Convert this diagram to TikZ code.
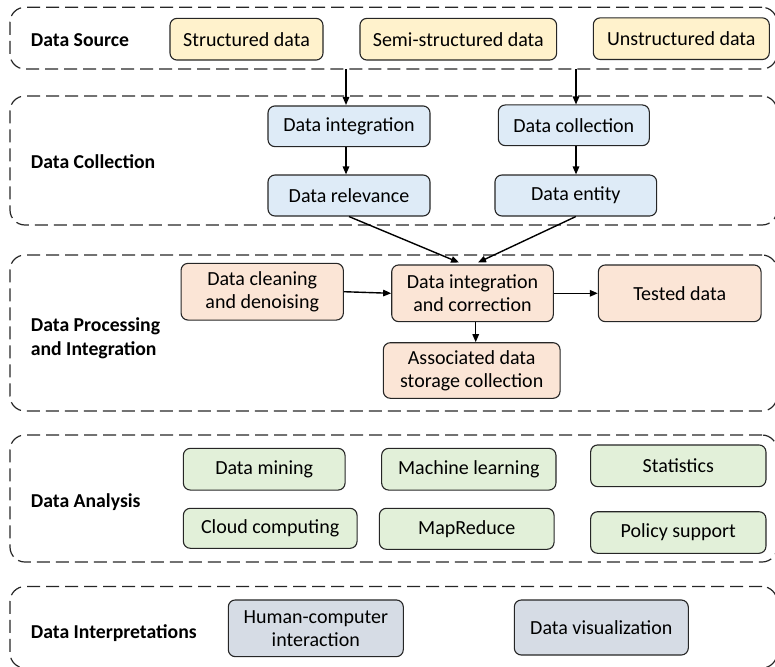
\documentclass[tikz,border=0pt]{standalone}
\usepackage{fontspec}
\setmainfont{Carlito}
\usetikzlibrary{arrows.meta}
\definecolor{cyel}{HTML}{FFF2CC}
\definecolor{cblu}{HTML}{DEEBF7}
\definecolor{csal}{HTML}{FBE5D6}
\definecolor{cgrn}{HTML}{E2F0D9}
\definecolor{cgry}{HTML}{D6DCE5}
\definecolor{cedge}{HTML}{262626}
\tikzset{
  box/.style={draw=cedge, line width=1.1pt, rounded corners=7pt, align=center, inner sep=0pt,
    font=\fontsize{20pt}{23pt}\selectfont, text=black},
  frame/.style={draw=black!85, line width=1.2pt, dash pattern=on 13pt off 6pt, rounded corners=15pt, inner sep=0pt},
  lbl/.style={anchor=west, inner sep=0pt, align=left, font=\bfseries\fontsize{19.7pt}{23.5pt}\selectfont},
  arr/.style={line width=1.4pt, -{Triangle[length=8pt,width=6.5pt]}}
}
\begin{document}
\begin{tikzpicture}[x=1pt,y=-1pt]
\useasboundingbox (0,0) rectangle (775,666);
\clip (0,0) rectangle (775,666);
% frames
\node[frame, minimum width=767pt, minimum height=61.7pt] (fsrc) at (393.5,38.15) {};
\node[frame, minimum width=767pt, minimum height=129pt] (fcol) at (393.5,160.5) {};
\node[frame, minimum width=767pt, minimum height=156pt] (fpro) at (393.5,333) {};
\node[frame, minimum width=767pt, minimum height=127pt] (fana) at (393.5,498.5) {};
\node[frame, minimum width=767pt, minimum height=81.5pt] (fint) at (393.5,627.25) {};
% labels
\node[lbl] (lsrc) at (30.7,40) {Data Source};
\node[lbl] (lcol) at (30.7,161.7) {Data Collection};
\node[lbl] (lpro) at (30.7,338.5) {Data Processing\\and Integration};
\node[lbl] (lana) at (30.7,501.7) {Data Analysis};
\node[lbl] (lint) at (30.7,633.3) {Data Interpretations};
% data source
\node[box, fill=cyel, minimum width=153pt, minimum height=41.7pt] (struct) at (246.5,39.2) {Structured data};
\node[box, fill=cyel, minimum width=196.7pt, minimum height=41.7pt] (semi) at (458.3,39.2) {Semi-structured data};
\node[box, fill=cyel, minimum width=176pt, minimum height=41.7pt] (unstr) at (681.3,38.7) {Unstructured data};
% data collection
\node[box, fill=cblu, minimum width=162pt, minimum height=40.7pt] (dinteg) at (349,126.3) {Data integration};
\node[box, fill=cblu, minimum width=151pt, minimum height=40.7pt] (dcoll) at (573.8,125.3) {Data collection};
\node[box, fill=cblu, minimum width=162pt, minimum height=41pt] (drel) at (349,195.5) {Data relevance};
\node[box, fill=cblu, minimum width=161.7pt, minimum height=41pt] (dent) at (575.8,195.5) {Data entity};
% processing
\node[box, fill=csal, minimum width=162.3pt, minimum height=56.7pt] (clean) at (262.2,291.7) {Data cleaning\\and denoising};
\node[box, fill=csal, minimum width=161.6pt, minimum height=56.7pt] (corr) at (472.5,293.3) {Data integration\\and correction};
\node[box, fill=csal, minimum width=162.7pt, minimum height=56.7pt] (tested) at (679.7,293.3) {Tested data};
\node[box, fill=csal, minimum width=176.7pt, minimum height=55.6pt] (assoc) at (471.7,370.5) {Associated data\\storage collection};
% analysis
\node[box, fill=cgrn, minimum width=161.7pt, minimum height=41.7pt] (mining) at (264.2,469.2) {Data mining};
\node[box, fill=cgrn, minimum width=174.3pt, minimum height=41.7pt] (ml) at (468.8,469.2) {Machine learning};
\node[box, fill=cgrn, minimum width=175.3pt, minimum height=41.7pt] (stats) at (678.3,465.8) {Statistics};
\node[box, fill=cgrn, minimum width=173.7pt, minimum height=40pt] (cloud) at (270.2,528.3) {Cloud computing};
\node[box, fill=cgrn, minimum width=174.7pt, minimum height=41pt] (mapred) at (466.7,528.8) {MapReduce};
\node[box, fill=cgrn, minimum width=175.3pt, minimum height=41.6pt] (policy) at (678.3,532.5) {Policy support};
% interpretations
\node[box, fill=cgry, minimum width=175pt, minimum height=56.7pt] (hci) at (315.8,628.3) {Human-computer\\interaction};
\node[box, fill=cgry, minimum width=174pt, minimum height=55pt] (vis) at (601.3,627.5) {Data visualization};
% arrows
\coordinate (s1) at (346,69);
\coordinate (s2) at (576,69);
\coordinate (e1) at (346,105);
\coordinate (e2) at (576,104.5);
\draw[arr] (s1) -- (e1);
\draw[arr] (s2) -- (e2);
\draw[arr] (dinteg.south -| s1) -- (drel.north -| s1);
\draw[arr] (dcoll.south -| s2) -- (dent.north -| s2);
\coordinate (t1) at (459,262.5);
\coordinate (t2) at (478,262.5);
\draw[arr] (drel.south) -- (t1);
\draw[arr] (dent.south) -- (t2);
\draw[arr] (clean.east) -- (corr.west);
\draw[arr] (corr.east) -- (tested.west);
\draw[arr] (corr.south -| 475.7,0) -- (assoc.north -| 475.7,0);
\end{tikzpicture}
\end{document}
